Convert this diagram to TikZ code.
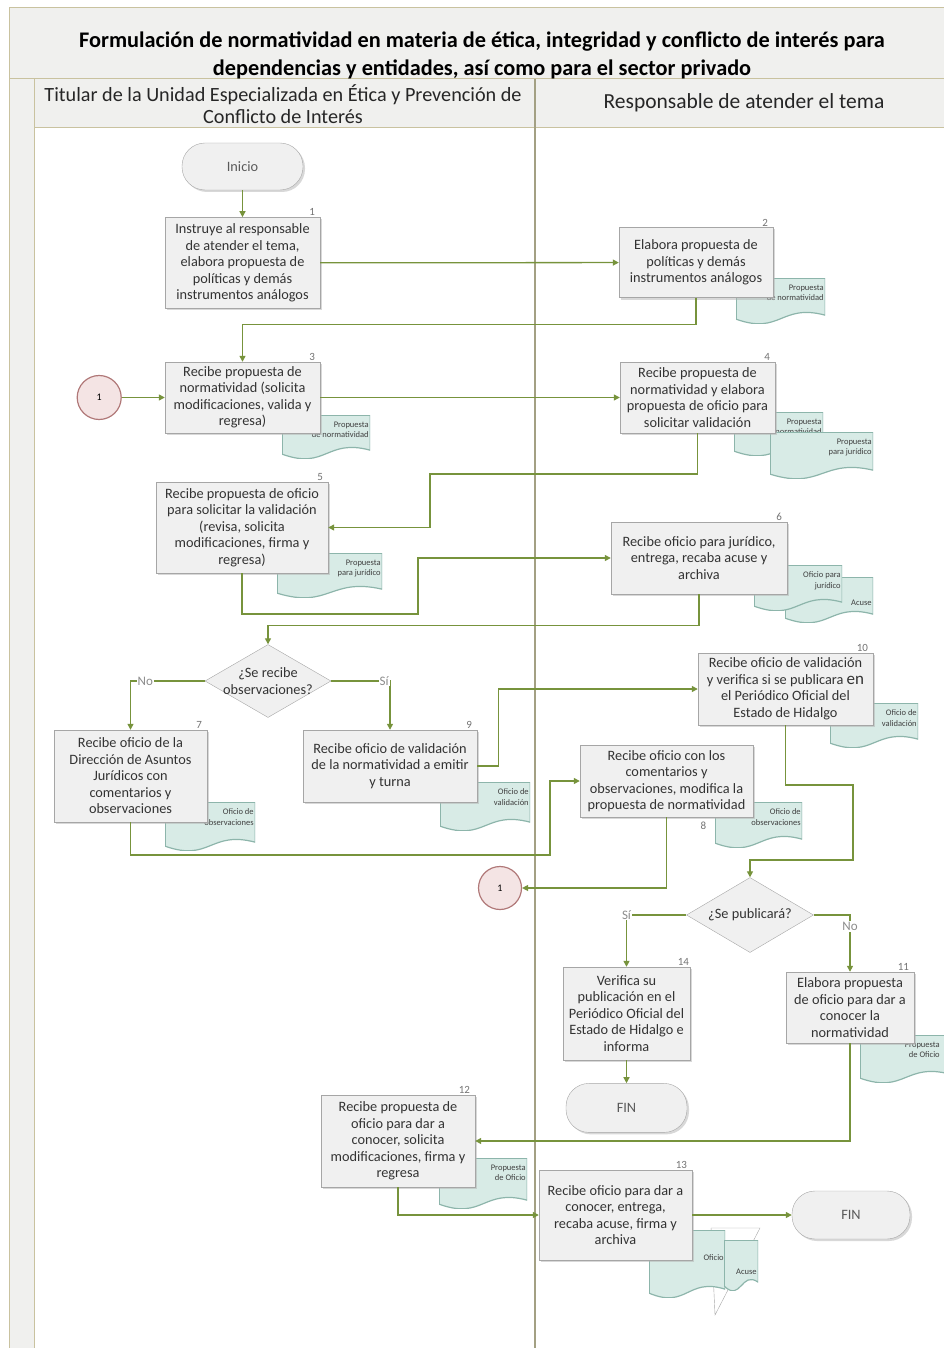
\documentclass[tikz,border=0pt]{standalone}
\usepackage{fontspec}
\setmainfont{Carlito}
\usepackage{tikz}
\usetikzlibrary{positioning, arrows.meta, shapes.geometric, shadows}

\definecolor{flow}{HTML}{77933C}
\definecolor{boxfill}{HTML}{F0F0F0}
\definecolor{boxline}{HTML}{A6A6A6}
\definecolor{docfill}{HTML}{D8EBE6}
\definecolor{docline}{HTML}{8DB5AB}
\definecolor{laneline}{HTML}{C9C29F}
\definecolor{lanediv}{HTML}{A3A083}
\definecolor{bandfill}{HTML}{F0F0EE}
\definecolor{connfill}{HTML}{F4E4E4}
\definecolor{connline}{HTML}{B07878}

\begin{document}
\begin{tikzpicture}[
    x=1pt, y=-1pt,
    >={Triangle[length=6pt, width=6pt]},
    node distance=27pt,
    font=\fontsize{14.3}{16.5}\selectfont,
    box/.style={draw=boxline, fill=boxfill, rectangle, align=center, inner sep=3pt, text=black!80, drop shadow={shadow xshift=2pt, shadow yshift=-2pt, fill=black!30}},
    term/.style={box, rounded corners=23pt, minimum width=121pt, minimum height=47pt, text=black!65},
    decision/.style={diamond, draw=boxline, fill=boxfill, inner sep=0pt, minimum width=126pt, minimum height=73pt},
    conn/.style={circle, draw=connline, fill=connfill, line width=1.2pt, minimum size=44pt, inner sep=0pt, font=\fontsize{10}{10}\selectfont},
    docu/.style={draw=none, anchor=north west, inner sep=0pt,
        path picture={
            \draw[fill=docfill, draw=docline, line width=1.2pt]
                (path picture bounding box.north west) -- (path picture bounding box.north east)
                -- ([yshift=8pt]path picture bounding box.south east)
                .. controls ([yshift=20pt]path picture bounding box.south) and ([yshift=-12pt]path picture bounding box.south)
                .. ([yshift=4pt]path picture bounding box.south west) -- cycle;
        }},
    doclabel/.style={anchor=north east, align=right, inner sep=1.5pt, yshift=-5pt, font=\fontsize{8.5}{10.5}\selectfont, text=black!75},
    num/.style={anchor=south east, inner sep=1pt, xshift=-4pt, font=\fontsize{11}{11}\selectfont, text=black!55},
    answer/.style={fill=white, inner sep=1pt, text=black!45, font=\fontsize{13}{13}\selectfont},
    arrow/.style={->, draw=flow, line width=1.3pt},
    lane/.style={draw=laneline, line width=1pt}
]
\useasboundingbox (0,0) rectangle (943,1348);

% Pool and lanes
\fill[bandfill] (9,8) rectangle (960,79);
\fill[bandfill] (9,79) rectangle (34,1360);
\fill[bandfill] (34,79) rectangle (960,128);
\draw[lane] (9,8) rectangle (960,1360);
\draw[lane] (9,79) -- (960,79);
\draw[lane] (34,79) -- (34,1360);
\draw[lane] (34,128) -- (960,128);
\draw[draw=lanediv, line width=1.2pt] (535,79) -- (535,1360);

\node[font=\bfseries\fontsize{22.3}{28}\selectfont, align=center] (title) at (482,55) {Formulación de normatividad en materia de ética, integridad y conflicto de interés para\\dependencias y entidades, así como para el sector privado};
\node[font=\fontsize{20.2}{22}\selectfont, align=center, text=black!85] (lane1) at (283,104) {Titular de la Unidad Especializada en Ética y Prevención de\\Conflicto de Interés};
\node[font=\fontsize{21.5}{22}\selectfont, text=black!85] (lane2) at (744,103) {Responsable de atender el tema};

% Documents
\node[docu, minimum width=89pt, minimum height=45pt, label={[doclabel]north east:Propuesta\\de normatividad}] (dn2) at (736,278) {};
\node[docu, minimum width=88pt, minimum height=43pt, label={[doclabel]north east:Propuesta\\de normatividad}] (dn3) at (282,415) {};
\node[docu, minimum width=89pt, minimum height=43pt, label={[doclabel]north east:Propuesta\\de normatividad}] (dn4a) at (734,412) {};
\node[docu, minimum width=103pt, minimum height=46pt, label={[doclabel]north east:Propuesta\\para jurídico}] (dn4b) at (770,432) {};
\node[docu, minimum width=105pt, minimum height=44pt, label={[doclabel]north east:Propuesta\\para jurídico}] (dn5) at (277,553) {};
\node[docu, minimum width=88pt, minimum height=45pt, label={[doclabel, yshift=-16pt]north east:Acuse}] (dn6b) at (785,577) {};
\node[docu, minimum width=88pt, minimum height=45pt, label={[doclabel]north east:Oficio para\\jurídico}] (dn6a) at (754,565) {};
\node[docu, minimum width=90pt, minimum height=48pt, label={[doclabel]north east:Oficio de\\observaciones}] (dn7) at (165,802) {};
\node[docu, minimum width=90pt, minimum height=48pt, label={[doclabel]north east:Oficio de\\validación}] (dn9) at (440,782) {};
\node[docu, minimum width=88pt, minimum height=44pt, label={[doclabel]north east:Oficio de\\validación}] (dn10) at (830,703) {};
\node[docu, minimum width=87pt, minimum height=45pt, label={[doclabel]north east:Oficio de\\observaciones}] (dn8) at (715,802) {};
\node[docu, minimum width=90pt, minimum height=47pt, label={[doclabel, xshift=-9pt]north east:Propuesta\\de Oficio}] (dn11) at (860,1035) {};
\node[docu, minimum width=88pt, minimum height=50pt, label={[doclabel]north east:Propuesta\\de Oficio}] (dn12) at (439,1158) {};
\draw[black!35, fill=white] (711,1228) -- (760,1228) -- (715,1315) -- cycle;
\node[docu, minimum width=76pt, minimum height=67pt, label={[doclabel, yshift=-18pt]north east:Oficio}] (dn13a) at (649,1230) {};
\node[docu, minimum width=34pt, minimum height=50pt, label={[doclabel, yshift=-22pt]north east:Acuse}] (dn13b) at (724,1240) {};

% Nodes
\node[term] (inicio) at (242.5,166.5) {Inicio};
\node[box, minimum width=155pt, minimum height=91pt, below=of inicio, label={[num]north east:1}] (b1) {Instruye al responsable\\de atender el tema,\\elabora propuesta de\\políticas y demás\\instrumentos análogos};
\node[box, minimum width=154pt, minimum height=70pt, label={[num]north east:2}] (b2) at (696,262.5) {Elabora propuesta de\\políticas y demás\\instrumentos análogos};
\node[box, minimum width=155pt, minimum height=71pt, label={[num]north east:3}] (b3) at (242.5,397.5) {Recibe propuesta de\\normatividad (solicita\\modificaciones, valida y\\regresa)};
\node[conn, left=43pt of b3] (c1) {1};
\node[box, minimum width=155pt, minimum height=71pt, label={[num]north east:4}] (b4) at (697.5,397.5) {Recibe propuesta de\\normatividad y elabora\\propuesta de oficio para\\solicitar validación};
\node[box, minimum width=172pt, minimum height=91pt, label={[num]north east:5}] (b5) at (242,527.5) {Recibe propuesta de oficio\\para solicitar la validación\\(revisa, solicita\\modificaciones, firma y\\regresa)};
\node[box, minimum width=176pt, minimum height=72pt, label={[num]north east:6}] (b6) at (699,558) {Recibe oficio para jurídico,\\entrega, recaba acuse y\\archiva};
\node[decision, label={[align=center, text=black!80]center:¿Se recibe\\observaciones?}] (d1) at (268,681) {};
\node[box, minimum width=153pt, minimum height=92pt, label={[num]north east:7}] (b7) at (130.5,776) {Recibe oficio de la\\Dirección de Asuntos\\Jurídicos con\\comentarios y\\observaciones};
\node[box, minimum width=174pt, minimum height=72pt, label={[num]north east:9}] (b9) at (390,766) {Recibe oficio de validación\\de la normatividad a emitir\\y turna};
\node[box, minimum width=175pt, minimum height=72pt, label={[num]north east:10}] (b10) at (785.5,689) {Recibe oficio de validación\\y verifica si se publicara {\fontsize{17}{16.5}\selectfont en}\\el Periódico Oficial del\\Estado de Hidalgo};
\node[box, minimum width=173pt, minimum height=72pt, label={[num, anchor=north, xshift=41pt, yshift=-4pt]south:8}] (b8) at (666.5,781) {Recibe oficio con los\\comentarios y\\observaciones, modifica la\\propuesta de normatividad};
\node[conn, minimum size=43pt] (c2) at (500,888) {1};
\node[decision, minimum width=127pt, minimum height=75pt, label={[text=black!80]center:¿Se publicará?}] (d2) at (750,915) {};
\node[box, minimum width=127pt, minimum height=93pt, label={[num, xshift=4pt]north east:14}] (b14) at (626.5,1013.5) {Verifica su\\publicación en el\\Periódico Oficial del\\Estado de Hidalgo e\\informa};
\node[term, minimum height=49pt, below=23pt of b14] (fin1) {FIN};
\node[box, minimum width=128pt, minimum height=71pt, label={[num]north east:11}] (b11) at (850,1007.5) {Elabora propuesta\\de oficio para dar a\\conocer la\\normatividad};
\node[box, minimum width=154pt, minimum height=92pt, label={[num]north east:12}] (b12) at (398,1141) {Recibe propuesta de\\oficio para dar a\\conocer, solicita\\modificaciones, firma y\\regresa};
\node[box, minimum width=153pt, minimum height=90pt, label={[num]north east:13}] (b13) at (615.5,1215) {Recibe oficio para dar a\\conocer, entrega,\\recaba acuse, firma y\\archiva};
\node[term, minimum width=118pt, minimum height=48pt] (fin2) at (851,1215) {FIN};

% Edges
\draw[arrow] (inicio) -- (b1);
\draw[arrow] (b1) -- (b2);
\draw[arrow] (b2.south) -- ++(0,27) -| (b3.north);
\draw[arrow] (c1) -- (b3);
\draw[arrow] (b3) -- (b4);
\draw[arrow] (b4.south) |- (430,474) |- (b5.east);
\draw[arrow] (b5.south) |- (418,614) |- (b6.west);
\draw[arrow] (b6.south) -- ++(0,31) -| (d1.north);
\draw[arrow] (d1.west) -| node[answer, pos=0.4] {No} (b7.north);
\draw[arrow] (d1.east) -| node[answer, pos=0.45] {Sí} (b9.north);
\draw[arrow] (b7.south) |- (550,855) |- (b8.west);
\draw[arrow] (b9.east) -- ++(21,0) |- (b10.west);
\draw[arrow] (b8.south) |- (c2.east);
\draw[arrow] (b10.south) |- (853,785) |- (750,860) -- (d2.north);
\draw[arrow] (d2.west) -| node[answer, pos=0.5] {Sí} (b14.north);
\draw[arrow] (d2.east) -| node[answer, pos=0.6] {No} (b11.north);
\draw[arrow] (b14) -- (fin1);
\draw[arrow] (b11.south) |- (b12.east);
\draw[arrow] (b12.south) |- (b13.west);
\draw[arrow] (b13) -- (fin2);
\end{tikzpicture}
\end{document}
